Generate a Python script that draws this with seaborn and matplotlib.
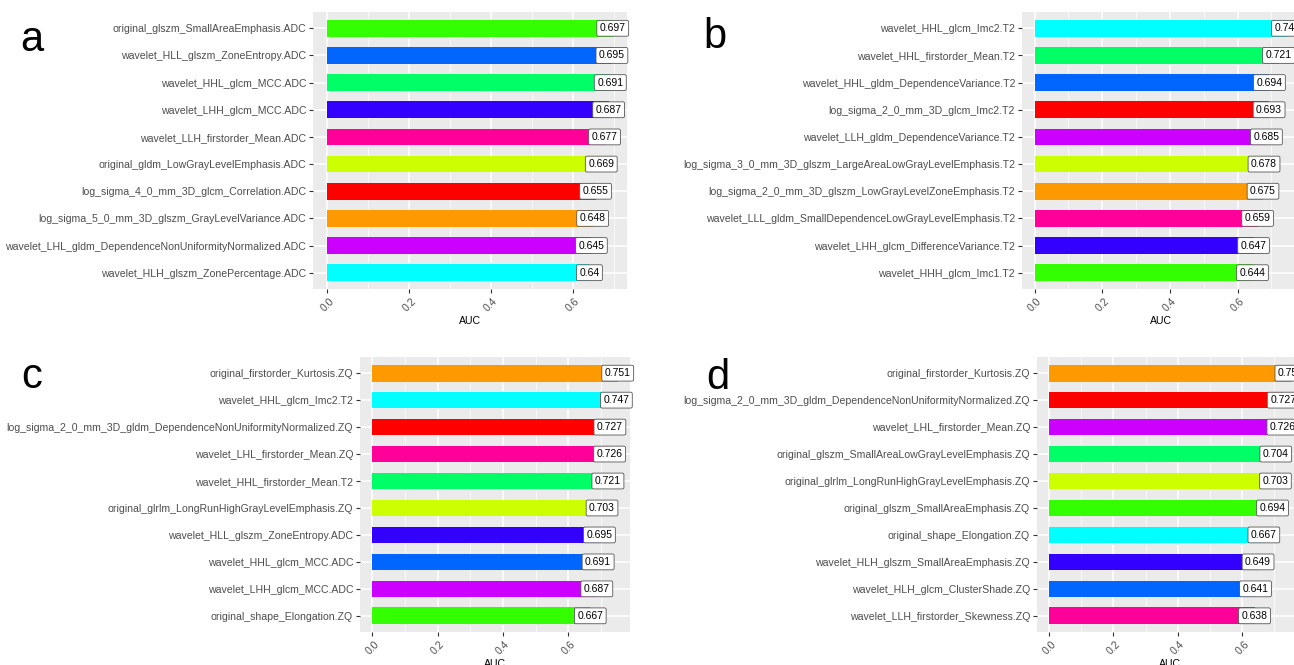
import matplotlib
matplotlib.use("Agg")
import matplotlib.pyplot as plt
import seaborn as sns
import pandas as pd
from matplotlib import font_manager as fm
from matplotlib.ticker import MultipleLocator, FixedLocator

# ---------------- data ----------------
a_features = [
    "original_glszm_SmallAreaEmphasis.ADC",
    "wavelet_HLL_glszm_ZoneEntropy.ADC",
    "wavelet_HHL_glcm_MCC.ADC",
    "wavelet_LHH_glcm_MCC.ADC",
    "wavelet_LLH_firstorder_Mean.ADC",
    "original_gldm_LowGrayLevelEmphasis.ADC",
    "log_sigma_4_0_mm_3D_glcm_Correlation.ADC",
    "log_sigma_5_0_mm_3D_glszm_GrayLevelVariance.ADC",
    "wavelet_LHL_gldm_DependenceNonUniformityNormalized.ADC",
    "wavelet_HLH_glszm_ZonePercentage.ADC",
]
a_auc = [0.697, 0.695, 0.691, 0.687, 0.677, 0.669, 0.655, 0.648, 0.645, 0.64]
a_colors = ["#33FF00", "#0066FF", "#00FF66", "#3300FF", "#FF0099",
            "#CCFF00", "#FF0000", "#FF9900", "#CC00FF", "#00FFFF"]

b_features = [
    "wavelet_HHL_glcm_Imc2.T2",
    "wavelet_HHL_firstorder_Mean.T2",
    "wavelet_HHL_gldm_DependenceVariance.T2",
    "log_sigma_2_0_mm_3D_glcm_Imc2.T2",
    "wavelet_LLH_gldm_DependenceVariance.T2",
    "log_sigma_3_0_mm_3D_glszm_LargeAreaLowGrayLevelEmphasis.T2",
    "log_sigma_2_0_mm_3D_glszm_LowGrayLevelZoneEmphasis.T2",
    "wavelet_LLL_gldm_SmallDependenceLowGrayLevelEmphasis.T2",
    "wavelet_LHH_glcm_DifferenceVariance.T2",
    "wavelet_HHH_glcm_Imc1.T2",
]
b_auc = [0.747, 0.721, 0.694, 0.693, 0.685, 0.678, 0.675, 0.659, 0.647, 0.644]
b_colors = ["#00FFFF", "#00FF66", "#0066FF", "#FF0000", "#CC00FF",
            "#CCFF00", "#FF9900", "#FF0099", "#3300FF", "#33FF00"]

c_features = [
    "original_firstorder_Kurtosis.ZQ",
    "wavelet_HHL_glcm_Imc2.T2",
    "log_sigma_2_0_mm_3D_gldm_DependenceNonUniformityNormalized.ZQ",
    "wavelet_LHL_firstorder_Mean.ZQ",
    "wavelet_HHL_firstorder_Mean.T2",
    "original_glrlm_LongRunHighGrayLevelEmphasis.ZQ",
    "wavelet_HLL_glszm_ZoneEntropy.ADC",
    "wavelet_HHL_glcm_MCC.ADC",
    "wavelet_LHH_glcm_MCC.ADC",
    "original_shape_Elongation.ZQ",
]
c_auc = [0.751, 0.747, 0.727, 0.726, 0.721, 0.703, 0.695, 0.691, 0.687, 0.667]
c_colors = ["#FF9900", "#00FFFF", "#FF0000", "#FF0099", "#00FF66",
            "#CCFF00", "#3300FF", "#0066FF", "#CC00FF", "#33FF00"]

d_features = [
    "original_firstorder_Kurtosis.ZQ",
    "log_sigma_2_0_mm_3D_gldm_DependenceNonUniformityNormalized.ZQ",
    "wavelet_LHL_firstorder_Mean.ZQ",
    "original_glszm_SmallAreaLowGrayLevelEmphasis.ZQ",
    "original_glrlm_LongRunHighGrayLevelEmphasis.ZQ",
    "original_glszm_SmallAreaEmphasis.ZQ",
    "original_shape_Elongation.ZQ",
    "wavelet_HLH_glszm_SmallAreaEmphasis.ZQ",
    "wavelet_HLH_glcm_ClusterShade.ZQ",
    "wavelet_LLH_firstorder_Skewness.ZQ",
]
d_auc = [0.751, 0.727, 0.726, 0.704, 0.703, 0.694, 0.667, 0.649, 0.641, 0.638]
d_colors = ["#FF9900", "#FF0000", "#CC00FF", "#00FF66", "#CCFF00",
            "#33FF00", "#00FFFF", "#3300FF", "#0066FF", "#FF0099"]

x_ticks = [0.0, 0.2, 0.4, 0.6]
x_ticklabels = ["0.0", "0.2", "0.4", "0.6"]
panel_letters = ["a", "b", "c", "d"]

# ---------------- style ----------------
sns.set_theme(style="white")
names = {f.name for f in fm.fontManager.ttflist}
if "Liberation Sans Narrow" in names:
    main_font = "Liberation Sans Narrow"
    fs = 9.2
else:
    main_font = "Liberation Sans"
    fs = 7.6
plt.rcParams["font.family"] = [main_font, "DejaVu Sans"]

W, H = 1294, 665
fig = plt.figure(figsize=(W / 100, H / 100), dpi=100)

# panel boxes in pixels: left, right, top, bottom
boxes = [
    (313, 627, 12, 289),
    (1022, 1300, 12, 289),
    (360, 630, 357, 632),
    (1037, 1303, 357, 632),
]
letter_pos = [(32, 40), (715, 37), (32, 377), (718, 378)]

panels = [
    (a_features, a_auc, a_colors),
    (b_features, b_auc, b_colors),
    (c_features, c_auc, c_colors),
    (d_features, d_auc, d_colors),
]

for (feats, vals, cols), (l, r, t, b), letter, (lx, ly) in zip(panels, boxes, panel_letters, letter_pos):
    ax = fig.add_axes([l / W, 1 - b / H, (r - l) / W, (b - t) / H])
    df = pd.DataFrame({"feature": feats, "AUC": vals})
    sns.barplot(data=df, x="AUC", y="feature", hue="feature", order=feats,
                hue_order=feats, palette=dict(zip(feats, cols)), saturation=1,
                width=0.62, legend=False, linewidth=0, ax=ax)
    n = len(feats)
    vmax = max(vals)
    ax.set_xlim(-0.05 * vmax, 1.05 * vmax)
    ax.set_ylim(n - 0.4, -0.6)
    ax.set_facecolor("#EBEBEB")
    for s in ax.spines.values():
        s.set_visible(False)
    ax.set_axisbelow(True)
    ax.xaxis.set_major_locator(FixedLocator(x_ticks))
    ax.set_xticklabels(x_ticklabels, rotation=45, ha="center", va="top",
                       fontsize=fs, color="#4D4D4D")
    ax.xaxis.set_minor_locator(MultipleLocator(0.1))
    ax.grid(which="major", axis="both", color="white", lw=1.1)
    ax.grid(which="minor", axis="x", color="white", lw=0.5)
    ax.tick_params(which="major", length=3, width=0.8, color="#333333", pad=2,
                   bottom=True, left=True)
    ax.tick_params(which="minor", length=0)
    ax.tick_params(axis="y", labelsize=fs, labelcolor="#4D4D4D")
    ax.set_ylabel("")
    ax.set_xlabel("AUC", fontsize=fs, color="black", labelpad=2)
    for i, v in enumerate(vals):
        ax.text(v, i, f"{v:g}", ha="center", va="center", fontsize=7.5,
                family=["Liberation Sans", "DejaVu Sans"], color="black", zorder=5,
                bbox=dict(boxstyle="round,pad=0.28,rounding_size=0.15",
                          fc="white", ec="#555555", lw=0.6))
    fig.text(lx / W, 1 - ly / H, letter, fontsize=30, ha="center", va="center",
             color="black")

fig.savefig("out.png", dpi=100)
